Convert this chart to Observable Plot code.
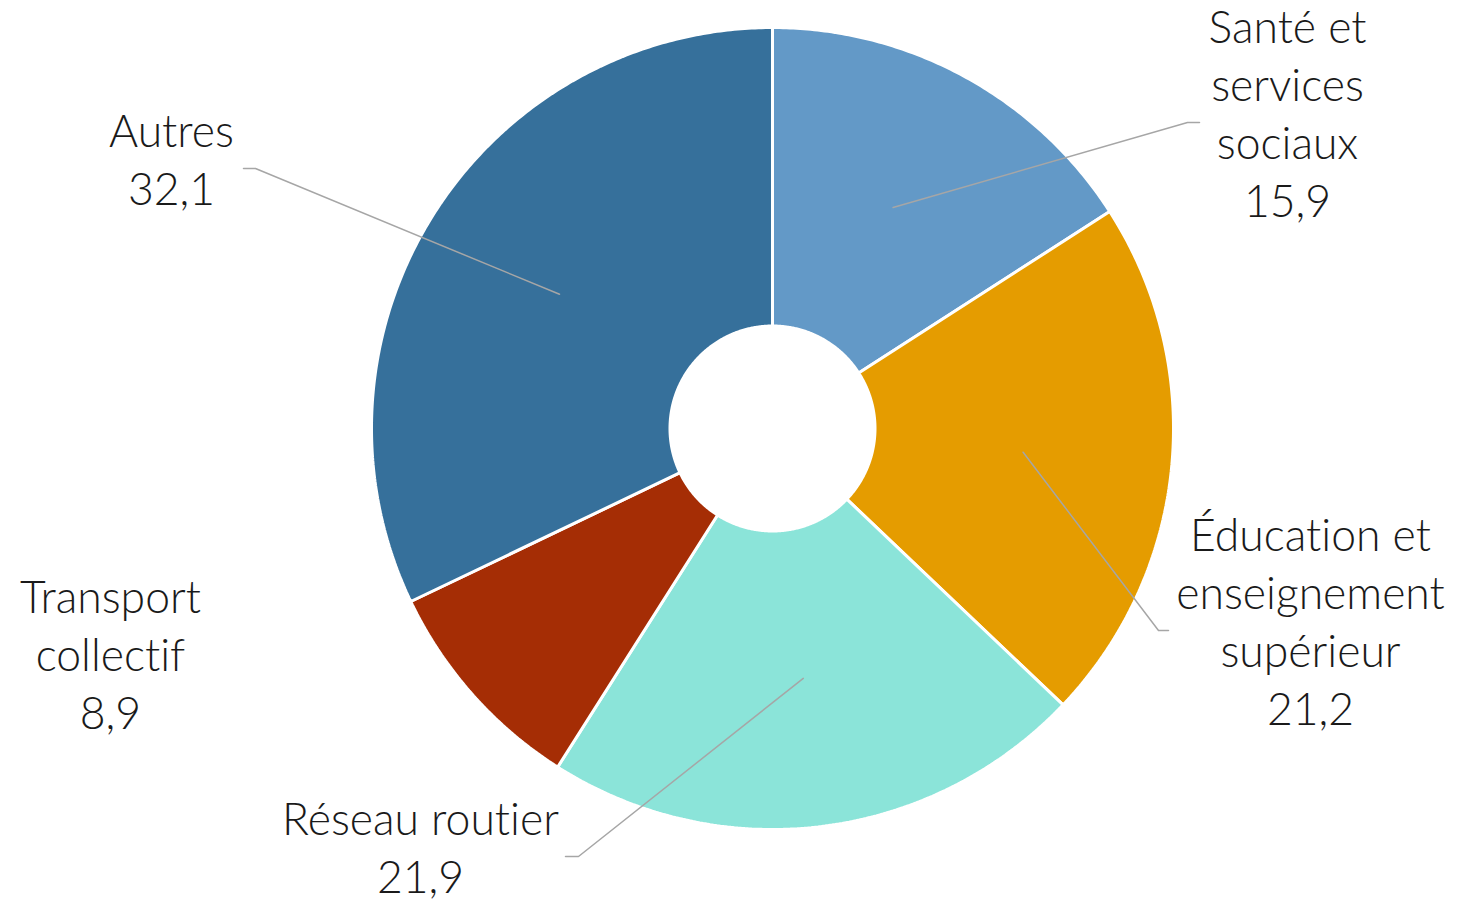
<!DOCTYPE html>
<html><head><meta charset="utf-8">
<script src="https://cdn.jsdelivr.net/npm/d3@7"></script>
<script src="https://cdn.jsdelivr.net/npm/@observablehq/plot@0.6"></script>
<style>body{margin:0;background:#fff;} svg{display:block;} svg text{font-variant-ligatures:none;font-feature-settings:"liga" 0;}</style>
</head><body><div id="chart"></div>
<script>
// ---- data ----
const categories = ["Santé et services sociaux", "Éducation et enseignement supérieur", "Réseau routier", "Transport collectif", "Autres"];
const values = [15.9, 21.2, 21.9, 8.9, 32.1];
const displayLabels = ["Santé et\nservices\nsociaux", "Éducation et\nenseignement\nsupérieur", "Réseau routier", "Transport\ncollectif", "Autres"];
const colors = ["#6399c7", "#e59c00", "#8be4d9", "#a52d05", "#36709b"];

// ---- layout (pixels) ----
const W = 1476, H = 902, cx = 772, cy = 428, R = 401, Rin = 102.5;
const labelPos = [[1287, 111], [1310, 619], [420, 845], [110, 652], [171, 157]];
const leaderEnds = [[[1187, 122], [1199, 122]], [[1158, 630], [1168, 630]], [[578, 856], [565, 856]], null, [[255, 168], [243, 168]]];

const ux = px => (px - cx) / R, uy = py => (cy - py) / R;
const inner = Rin / R;
const total = d3.sum(values);

const slicePts = [];
const leaderPts = [];
const labelData = [];
let acc = 0;
values.forEach((v, i) => {
  const a0 = acc / total * 2 * Math.PI;
  acc += v;
  const a1 = acc / total * 2 * Math.PI;
  const n = Math.max(2, Math.ceil((a1 - a0) / (Math.PI / 360)));
  const pts = [];
  for (let k = 0; k <= n; k++) { const a = a0 + (a1 - a0) * k / n; pts.push([Math.sin(a), Math.cos(a)]); }
  for (let k = n; k >= 0; k--) { const a = a0 + (a1 - a0) * k / n; pts.push([inner * Math.sin(a), inner * Math.cos(a)]); }
  pts.push(pts[0]);
  pts.forEach(([x, y]) => slicePts.push({name: categories[i], x, y}));
  const am = (a0 + a1) / 2, rm = (1 + inner) / 2;
  if (leaderEnds[i]) {
    leaderPts.push({name: categories[i], x: rm * Math.sin(am), y: rm * Math.cos(am)});
    leaderEnds[i].forEach(([px, py]) => leaderPts.push({name: categories[i], x: ux(px), y: uy(py)}));
  }
  labelData.push({name: categories[i], x: ux(labelPos[i][0]), y: uy(labelPos[i][1]),
    text: displayLabels[i] + "\n" + String(v).replace(".", ",")});
});

const chart = Plot.plot({
  width: W, height: H,
  x: {domain: [-1, 1], range: [cx - R, cx + R], axis: null},
  y: {domain: [-1, 1], range: [cy + R, cy - R], axis: null},
  color: {domain: categories, range: colors},
  style: {background: "#fff", fontFamily: "Lato, sans-serif"},
  marks: [
    Plot.line(slicePts, {x: "x", y: "y", z: "name", fill: "name", stroke: "white", strokeWidth: 3, strokeLinejoin: "miter", curve: "linear"}),
    Plot.line(leaderPts, {x: "x", y: "y", z: "name", stroke: "#a6a6a6", strokeWidth: 1.5, curve: "linear"}),
    Plot.text(labelData, {x: "x", y: "y", text: "text", fontSize: 44.5, lineHeight: 1.305, textAnchor: "middle", fill: "#1a1a1a", fontWeight: 300, fontFamily: "Lato"})
  ]
});
document.getElementById("chart").appendChild(chart);
</script>
</body></html>
